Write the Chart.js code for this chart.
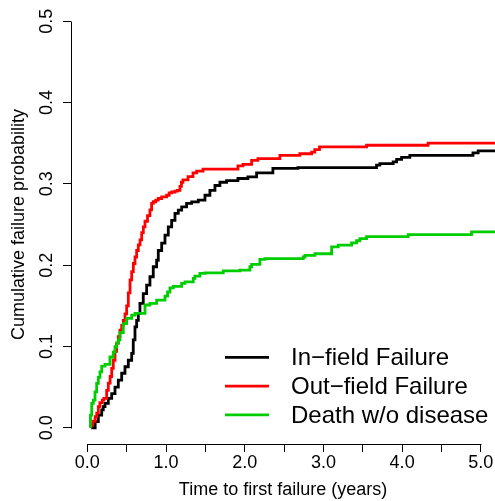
<!DOCTYPE html>
<html><head><meta charset="utf-8">
<script src="https://cdn.jsdelivr.net/npm/chart.js@4.4.0/dist/chart.umd.min.js"></script>
<style>html,body{margin:0;padding:0;background:#fff;}canvas{display:block;}</style>
</head><body>
<canvas id="c" width="495" height="501"></canvas>
<script>
const seriesLabels = ['In\u2212field Failure', 'Out\u2212field Failure', 'Death w/o disease'];
const seriesColors = ['#000000', '#FF0000', '#00CD00'];

const infieldTime = [0.05,0.10,0.14,0.183,0.203,0.225,0.267,0.31,0.352,0.394,0.437,0.479,0.521,0.564,0.584,0.606,0.627,0.648,0.669,0.711,0.754,0.796,0.838,0.881,0.902,0.945,0.987,1.029,1.072,1.114,1.156,1.199,1.262,1.326,1.41,1.495,1.558,1.622,1.685,1.77,1.914,2.04,2.151,2.358,2.676,3.675,3.717,3.886,3.93,3.993,4.098,4.90,4.966,5.03,5.18];
const infieldCIF = [0,0,0.0074,0.0156,0.022,0.026,0.030,0.036,0.042,0.050,0.0586,0.067,0.075,0.083,0.0915,0.108,0.124,0.132,0.1406,0.153,0.165,0.1755,0.1857,0.198,0.206,0.218,0.227,0.237,0.247,0.255,0.2636,0.2676,0.2717,0.2759,0.2778,0.280,0.286,0.292,0.298,0.302,0.304,0.3066,0.3086,0.3135,0.319,0.320,0.323,0.325,0.327,0.330,0.3325,0.335,0.338,0.3405,0.3405];

const outfieldTime = [0.05,0.07,0.10,0.12,0.14,0.16,0.19,0.21,0.246,0.267,0.29,0.31,0.33,0.352,0.373,0.394,0.415,0.437,0.458,0.479,0.50,0.521,0.543,0.564,0.585,0.606,0.627,0.648,0.67,0.691,0.712,0.733,0.765,0.796,0.817,0.838,0.87,0.902,0.945,1.008,1.04,1.072,1.114,1.145,1.177,1.196,1.215,1.28,1.343,1.389,1.47,1.914,1.978,2.088,2.168,2.447,2.70,2.85,2.89,2.95,3.548,4.33,4.82,5.18];
const outfieldCIF = [0,0.004,0.008,0.0135,0.018,0.026,0.031,0.034,0.036,0.046,0.055,0.063,0.073,0.083,0.094,0.104,0.112,0.120,0.126,0.132,0.140,0.150,0.166,0.182,0.192,0.202,0.210,0.218,0.225,0.231,0.240,0.247,0.254,0.261,0.268,0.276,0.278,0.280,0.282,0.284,0.286,0.289,0.290,0.291,0.292,0.297,0.302,0.305,0.309,0.3135,0.3156,0.318,0.322,0.324,0.329,0.331,0.335,0.337,0.339,0.342,0.3455,0.3475,0.350,0.350];

const deathTime = [0.04,0.056,0.076,0.098,0.119,0.14,0.161,0.183,0.225,0.288,0.33,0.352,0.373,0.394,0.415,0.457,0.50,0.564,0.606,0.733,0.796,0.881,0.987,1.02,1.05,1.092,1.199,1.241,1.346,1.367,1.431,1.495,1.727,1.939,2.066,2.088,2.193,2.257,2.743,2.765,2.892,3.104,3.188,3.358,3.421,3.463,3.548,4.077,4.882,5.03,5.18];
const deathCIF = [0,0.0156,0.030,0.034,0.044,0.0546,0.062,0.0688,0.0759,0.078,0.087,0.093,0.0996,0.104,0.108,0.117,0.128,0.1345,0.1386,0.1406,0.151,0.153,0.157,0.162,0.167,0.172,0.174,0.1775,0.1795,0.1837,0.1865,0.190,0.1906,0.193,0.194,0.198,0.201,0.207,0.208,0.210,0.212,0.214,0.2225,0.2246,0.2274,0.230,0.2326,0.235,0.2375,0.241,0.241];

const xTicks = [0,0.5,1,1.5,2,2.5,3,3.5,4,4.5,5];
const yTicks = [0,0.1,0.2,0.3,0.4,0.5];
const xTitle = 'Time to first failure (years)';
const yTitle = 'Cumulative failure probability';

const FONT = "'Liberation Sans', Arial, Helvetica, sans-serif";
Chart.defaults.font.family = FONT;
Chart.defaults.color = '#000';

function pts(t, v) { return t.map((x, i) => ({x: x, y: v[i]})); }

const rPlot = {
  id: 'rPlot',
  afterDraw(chart) {
    const {ctx, chartArea, scales} = chart;
    const x = scales.x, y = scales.y;
    ctx.save();
    ctx.strokeStyle = '#000';
    ctx.lineWidth = 1;
    // axis lines spanning first to last tick (R style)
    const xb = Math.round(chartArea.bottom) + 0.5;
    ctx.beginPath();
    ctx.moveTo(Math.round(x.getPixelForValue(xTicks[0])) + 0.5, xb);
    ctx.lineTo(Math.round(x.getPixelForValue(xTicks[xTicks.length - 1])) + 0.5, xb);
    ctx.stroke();
    const yl = Math.round(chartArea.left) + 0.5;
    ctx.beginPath();
    ctx.moveTo(yl, Math.round(y.getPixelForValue(yTicks[0])) + 0.5);
    ctx.lineTo(yl, Math.round(y.getPixelForValue(yTicks[yTicks.length - 1])) + 0.5);
    ctx.stroke();
    // rotated y tick labels
    ctx.fillStyle = '#000';
    ctx.font = '18px ' + FONT;
    ctx.textAlign = 'center';
    ctx.textBaseline = 'middle';
    yTicks.forEach(v => {
      ctx.save();
      ctx.translate(47, y.getPixelForValue(v));
      ctx.rotate(-Math.PI / 2);
      ctx.fillText(v.toFixed(1), 0, 0);
      ctx.restore();
    });
    // legend (R style, bottom right)
    ctx.font = '24px ' + FONT;
    ctx.textAlign = 'left';
    chart.data.datasets.forEach((ds, i) => {
      const ly = 357.3 + i * 28.8;
      ctx.strokeStyle = ds.borderColor;
      ctx.lineWidth = ds.borderWidth;
      ctx.beginPath();
      ctx.moveTo(225, ly);
      ctx.lineTo(269, ly);
      ctx.stroke();
      ctx.fillText(ds.label, 291, ly + 1);
    });
    ctx.restore();
  }
};

const datasets = [
  {label: seriesLabels[0], data: pts(infieldTime, infieldCIF), borderColor: seriesColors[0], order: 2},
  {label: seriesLabels[1], data: pts(outfieldTime, outfieldCIF), borderColor: seriesColors[1], order: 1},
  {label: seriesLabels[2], data: pts(deathTime, deathCIF), borderColor: seriesColors[2], order: 0}
].map(d => Object.assign(d, {stepped: 'after', borderWidth: 2.8, pointRadius: 0, fill: false, tension: 0, borderCapStyle: 'butt'}));

new Chart(document.getElementById('c'), {
  type: 'line',
  data: {datasets: datasets},
  options: {
    responsive: false,
    animation: false,
    events: [],
    layout: {autoPadding: false, padding: {top: 5, left: 0, right: 0, bottom: 0}},
    plugins: {legend: {display: false}, tooltip: {enabled: false}, title: {display: false}},
    scales: {
      x: {
        type: 'linear',
        min: -0.207, max: 5.18,
        afterBuildTicks: s => { s.ticks = xTicks.map(v => ({value: v})); },
        afterFit: s => { s.height = 57; },
        ticks: {
          autoSkip: false, maxRotation: 0, minRotation: 0, padding: 0,
          font: {size: 18}, color: '#000',
          callback: v => Number.isInteger(v) ? v.toFixed(1) : ''
        },
        grid: {drawOnChartArea: false, drawTicks: true, tickLength: 8, color: '#000', lineWidth: 1},
        border: {display: false},
        title: {display: true, text: xTitle, font: {size: 18}, color: '#000', padding: {top: 0, bottom: 0}}
      },
      y: {
        type: 'linear',
        min: -0.02, max: 0.52,
        afterBuildTicks: s => { s.ticks = yTicks.map(v => ({value: v})); },
        afterFit: s => { s.width = 71; },
        ticks: {display: false},
        grid: {drawOnChartArea: false, drawTicks: true, tickLength: 8, color: '#000', lineWidth: 1},
        border: {display: false},
        title: {display: true, text: yTitle, font: {size: 18}, color: '#000', padding: {top: 8, bottom: 0}}
      }
    }
  },
  plugins: [rPlot]
});
</script>
</body></html>
